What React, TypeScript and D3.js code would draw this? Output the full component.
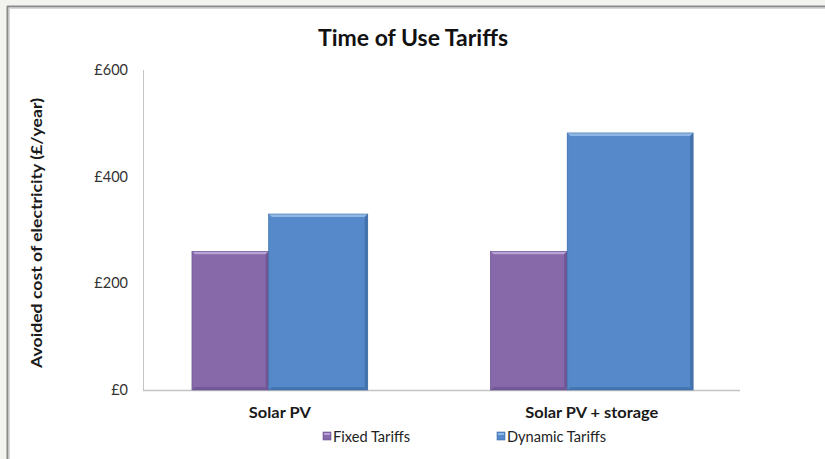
import React from "react";
import * as d3 from "d3";

const categories = ["Solar PV", "Solar PV + storage"];
const seriesNames = ["Fixed Tariffs", "Dynamic Tariffs"];
const fixedValues = [260, 260];
const dynamicValues = [330, 482];
const yTicks = [0, 200, 400, 600];

const W = 825;
const H = 459;
const FONT = "Lato, 'Open Sans', sans-serif";
const colors = ["#8769aa", "#5589c9"];
const lighter = ["#b9a3d6", "#8fb7e6"];
const darker = ["#6b5090", "#3f6da6"];

// layout fractions of each category band (style, not data)
const fixedOffset = 0.164;
const fixedWidth = 0.257;
const dynamicWidth = [0.332, 0.422];

function Bar({ x, y, w, h, i }: { x: number; y: number; w: number; h: number; i: number }) {
  const e = 3;
  return (
    <g>
      <rect x={x} y={y} width={w} height={h} fill={colors[i]} />
      <polygon points={`${x},${y} ${x + w},${y} ${x + w - e},${y + e} ${x + e},${y + e}`} fill={lighter[i]} />
      <polygon points={`${x},${y} ${x + e},${y + e} ${x + e},${y + h - e} ${x},${y + h}`} fill={colors[i]} opacity={0.85} />
      <polygon points={`${x + w},${y} ${x + w},${y + h} ${x + w - e},${y + h - e} ${x + w - e},${y + e}`} fill={darker[i]} opacity={0.8} />
      <polygon points={`${x},${y + h} ${x + w},${y + h} ${x + w - e},${y + h - e} ${x + e},${y + h - e}`} fill={darker[i]} opacity={0.7} />
      <rect x={x} y={y} width={w} height={h} fill="none" stroke={darker[i]} strokeWidth={0.6} />
    </g>
  );
}

export default function App() {
  const x0 = d3.scaleBand<string>().domain(categories).range([143, 740]).padding(0);
  const y = d3.scaleLinear().domain([0, 600]).range([390, 70]);
  const bw = x0.bandwidth();

  const bars: React.ReactNode[] = [];
  const labels: React.ReactNode[] = [];
  const labelLengths = [62, 133];
  categories.forEach((c, ci) => {
    const start = (x0(c) as number) + fixedOffset * bw;
    const fw = fixedWidth * bw;
    const dw = dynamicWidth[ci] * bw;
    const vals = [fixedValues[ci], dynamicValues[ci]];
    const xs = [start, start + fw];
    const ws = [fw, dw];
    vals.forEach((v, si) => {
      bars.push(
        <Bar key={`${ci}-${si}`} x={xs[si]} y={y(v)} w={ws[si]} h={y(0) - y(v)} i={si} />
      );
    });
    labels.push(
      <text key={c} x={start + (fw + dw) / 2} y={418} textAnchor="middle" fontFamily={FONT} fontWeight="bold" fontSize={15} fill="#1a1a1a" textLength={labelLengths[ci]} lengthAdjust="spacingAndGlyphs">
        {c}
      </text>
    );
  });

  const legendX = [323, 497];
  const legendLengths = [77, 99];

  return (
    <div style={{ position: "fixed", left: 0, top: 0 }}>
      <svg width={W} height={H} style={{ display: "block" }}>
        <rect x={0} y={0} width={W} height={H} fill="#f3f3ef" />
        <rect x={8} y={7} width={W - 8} height={H - 7} fill="#ffffff" />
        <line x1={7.5} y1={6} x2={7.5} y2={H} stroke="#8a8a8a" strokeWidth={2} />
        <line x1={7} y1={6.5} x2={W} y2={6.5} stroke="#8a8a8a" strokeWidth={2} />
        <line x1={9} y1={8.5} x2={W} y2={8.5} stroke="#d8d8d8" strokeWidth={1} />
        <line x1={9.5} y1={8} x2={9.5} y2={H} stroke="#d8d8d8" strokeWidth={1} />

        <text x={413} y={46} textAnchor="middle" fontFamily={FONT} fontWeight="bold" fontSize={23} fill="#111" textLength={190} lengthAdjust="spacingAndGlyphs">
          Time of Use Tariffs
        </text>

        <text
          transform={`translate(42,233) rotate(-90)`}
          textAnchor="middle"
          fontFamily={FONT}
          fontWeight="bold"
          fontSize={14.5}
          fill="#1a1a1a"
          textLength={270}
          lengthAdjust="spacingAndGlyphs"
        >
          Avoided cost of electricity (£/year)
        </text>

        {yTicks.map((t) => (
          <text key={t} x={128} y={y(t) + 5} textAnchor="end" fontFamily={FONT} fontSize={14.5} fill="#333">
            {`£${t}`}
          </text>
        ))}

        <line x1={143.5} y1={y(600)} x2={143.5} y2={y(0)} stroke="#c4c4c4" strokeWidth={1} />
        <line x1={143} y1={y(0) + 0.5} x2={740} y2={y(0) + 0.5} stroke="#c4c4c4" strokeWidth={1.5} />

        {bars}
        {labels}

        {seriesNames.map((s, i) => (
          <g key={s}>
            <rect x={legendX[i]} y={432} width={8} height={8} fill={colors[i]} stroke={darker[i]} strokeWidth={0.6} />
            <rect x={legendX[i] + 1} y={433} width={6} height={2} fill={lighter[i]} />
            <text x={legendX[i] + 10} y={442} fontFamily={FONT} fontSize={14.5} fill="#222" textLength={legendLengths[i]} lengthAdjust="spacingAndGlyphs">
              {s}
            </text>
          </g>
        ))}
      </svg>
    </div>
  );
}
